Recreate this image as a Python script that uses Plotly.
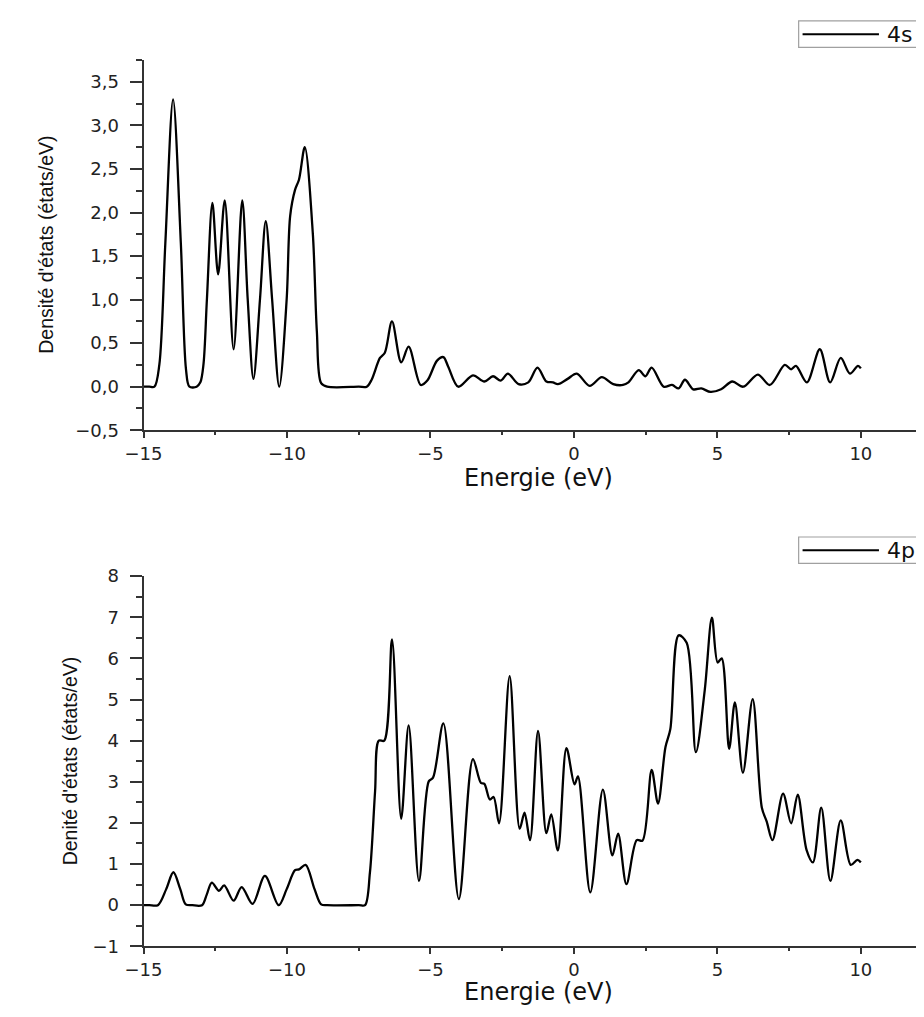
import plotly.graph_objects as go

# ---------------- data ----------------
energy_4s = [
    -15.0, -14.8, -14.62, -14.45, -14.24, -13.97, -13.70, -13.52, -13.40, -13.15,
    -13.02, -12.91, -12.79, -12.60, -12.40, -12.17, -11.86, -11.56, -11.37, -11.17,
    -10.94, -10.74, -10.52, -10.27, -10.01, -9.89, -9.72, -9.58, -9.38, -9.10,
    -8.96, -8.81, -8.6, -7.5, -7.22, -7.05, -6.76, -6.59, -6.34, -6.02,
    -5.76, -5.34, -5.11, -4.77, -4.55, -4.38, -4.03, -3.52, -3.12, -2.82,
    -2.55, -2.30, -1.93, -1.59, -1.27, -0.96, -0.73, -0.56, -0.22, 0.10,
    0.55, 0.97, 1.37, 1.71, 1.90, 2.26, 2.49, 2.71, 3.13, 3.42,
    3.65, 3.87, 4.16, 4.44, 4.76, 5.13, 5.52, 5.90, 6.41, 6.83,
    7.35, 7.57, 7.74, 8.12, 8.57, 8.93, 9.30, 9.62, 9.90, 10.0,
]
dos_4s = [
    0.0, 0.0, 0.0, 0.25, 1.65, 3.30, 1.65, 0.20, 0.0, 0.0,
    0.05, 0.26, 1.01, 2.11, 1.29, 2.14, 0.43, 2.14, 1.01, 0.09,
    1.01, 1.90, 1.01, 0.0, 1.01, 1.96, 2.26, 2.38, 2.75, 1.76,
    0.64, 0.04, 0.0, 0.0, 0.0, 0.08, 0.33, 0.39, 0.75, 0.28,
    0.46, 0.02, 0.07, 0.30, 0.34, 0.23, 0.0, 0.13, 0.06, 0.12,
    0.07, 0.15, 0.03, 0.05, 0.22, 0.06, 0.05, 0.03, 0.09, 0.15,
    0.01, 0.11, 0.03, 0.02, 0.05, 0.19, 0.12, 0.22, 0.0, 0.02,
    -0.02, 0.08, -0.03, -0.02, -0.06, -0.03, 0.06, 0.0, 0.14, 0.02,
    0.25, 0.20, 0.24, 0.05, 0.43, 0.05, 0.33, 0.15, 0.24, 0.21,
]

energy_4p = [
    -15.0, -14.8, -14.50, -14.21, -13.96, -13.72, -13.53, -13.3, -12.96, -12.80,
    -12.62, -12.37, -12.19, -11.86, -11.58, -11.20, -10.77, -10.29, -10.01, -9.72,
    -9.58, -9.35, -9.04, -8.81, -8.6, -7.5, -7.28, -7.11, -6.93, -6.80,
    -6.61, -6.34, -6.02, -5.76, -5.40, -5.06, -4.91, -4.55, -4.01, -3.52,
    -3.24, -3.12, -2.93, -2.80, -2.61, -2.24, -1.89, -1.72, -1.53, -1.25,
    -0.96, -0.79, -0.56, -0.26, 0.02, 0.14, 0.57, 1.01, 1.34, 1.54,
    1.83, 2.19, 2.39, 2.71, 2.93, 3.19, 3.36, 3.65, 3.93, 4.25,
    4.56, 4.81, 5.01, 5.15, 5.41, 5.61, 5.89, 6.23, 6.55, 6.72,
    6.92, 7.29, 7.57, 7.80, 8.11, 8.33, 8.62, 8.94, 9.30, 9.65,
    9.88, 10.0,
]
dos_4p = [
    0.0, 0.0, 0.0, 0.39, 0.80, 0.39, 0.02, 0.0, 0.0, 0.25,
    0.55, 0.35, 0.48, 0.11, 0.44, 0.03, 0.71, 0.0, 0.39, 0.85,
    0.87, 0.98, 0.39, 0.02, 0.0, 0.0, 0.0, 0.79, 2.77, 4.0,
    4.0, 6.46, 2.10, 4.37, 0.59, 3.01, 3.10, 4.42, 0.15, 3.55,
    2.97, 2.95, 2.57, 2.63, 1.99, 5.57, 1.86, 2.25, 1.58, 4.24,
    1.75, 2.21, 1.33, 3.82, 2.94, 3.13, 0.31, 2.81, 1.21, 1.74,
    0.51, 1.58, 1.57, 3.29, 2.47, 3.84, 4.28, 6.56, 6.38, 3.72,
    5.23, 6.99, 5.90, 6.00, 3.80, 4.93, 3.22, 5.01, 2.37, 2.03,
    1.58, 2.71, 1.99, 2.69, 1.34, 1.04, 2.37, 0.59, 2.06, 0.98,
    1.10, 1.04,
]

series_names = ["4s", "4p"]
x_title = "Energie (eV)"
y_titles = ["Densité d'états (états/eV)", "Denité d'états (états/eV)"]

# ---------------- figure ----------------
# the page body has an 8 px default margin, so the figure is placed at (8, 8)
OFF = 8
W, H = 924 - OFF, 1017 - OFF
fig = go.Figure()

fig.add_trace(go.Scatter(x=energy_4s, y=dos_4s, mode="lines", name=series_names[0],
                         line=dict(color="black", width=2.3, shape="spline", smoothing=0.9),
                         xaxis="x", yaxis="y", showlegend=False))
fig.add_trace(go.Scatter(x=energy_4p, y=dos_4p, mode="lines", name=series_names[1],
                         line=dict(color="black", width=2.3, shape="spline", smoothing=0.9),
                         xaxis="x2", yaxis="y2", showlegend=False))


def px_x(p):
    return (p - OFF) / W


def px_y(p):
    return 1 - (p - OFF) / H


axis_col = "#333333"
tick_font = dict(family="DejaVu Sans", size=18, color="#222222")

x_right = -15 + (924 - 127) / 29.3

xcommon = dict(range=[-15, x_right], domain=[px_x(127), 1.0], dtick=5, tick0=0,
               showline=True, linecolor=axis_col, linewidth=2, ticks="outside",
               ticklen=6, tickwidth=2, tickcolor=axis_col, showgrid=False,
               zeroline=False, tickfont=tick_font, ticklabelstandoff=0,
               minor=dict(dtick=2.5, tick0=0, ticks="outside", ticklen=3,
                          tickwidth=2, tickcolor=axis_col, showgrid=False))
ycommon = dict(showline=True, linecolor=axis_col, linewidth=2, ticks="outside",
               ticklen=12, tickwidth=2, tickcolor=axis_col, showgrid=False,
               zeroline=False, tickfont=tick_font, ticklabelstandoff=7)

fig.update_layout(
    width=W, height=H,
    margin=dict(l=0, r=0, t=0, b=0),
    paper_bgcolor="white", plot_bgcolor="white",
    separators=", ",
    xaxis=dict(**xcommon, anchor="y"),
    yaxis=dict(**ycommon, range=[-0.5, 3.75], domain=[px_y(428), px_y(50)],
               dtick=0.5, tick0=-0.5, tickformat=".1f", anchor="x",
               minor=dict(dtick=0.25, tick0=-0.5, ticks="outside", ticklen=6,
                          tickwidth=2, tickcolor=axis_col, showgrid=False)),
    xaxis2=dict(**xcommon, anchor="y2"),
    yaxis2=dict(**ycommon, range=[-1, 8], domain=[px_y(955), px_y(577)],
                dtick=1, tick0=0, tickformat="d", anchor="x2",
                minor=dict(dtick=0.5, tick0=0, ticks="outside", ticklen=6,
                           tickwidth=2, tickcolor=axis_col, showgrid=False)),
    showlegend=False,
)

title_font = dict(family="DejaVu Sans", size=24, color="#111111")
ytitle_font = dict(family="Liberation Sans", size=19.5, color="#111111")

annotations = [
    dict(text=x_title, x=px_x(530), y=px_y(477), xref="paper", yref="paper",
         showarrow=False, font=title_font, xanchor="center", yanchor="middle"),
    dict(text=x_title, x=px_x(530), y=px_y(1002), xref="paper", yref="paper",
         showarrow=False, font=title_font, xanchor="center", yanchor="middle"),
    dict(text=y_titles[0], x=px_x(28), y=px_y(239), xref="paper", yref="paper",
         showarrow=False, font=ytitle_font, textangle=-90, xanchor="center", yanchor="middle"),
    dict(text=y_titles[1], x=px_x(52), y=px_y(766), xref="paper", yref="paper",
         showarrow=False, font=ytitle_font, textangle=-90, xanchor="center", yanchor="middle"),
]

# legend boxes (framed sample line + label, as in the reference)
shapes = []
legend_font = dict(family="DejaVu Sans", size=22, color="#111111")
for name, (top, bottom) in zip(series_names, [(10, 37), (537, 564)]):
    mid = (top + bottom) / 2
    shapes.append(dict(type="rect", xref="paper", yref="paper",
                       x0=px_x(796), x1=px_x(940), y0=px_y(bottom), y1=px_y(top),
                       line=dict(color="#a0a0a0", width=1.2), fillcolor="white"))
    shapes.append(dict(type="line", xref="paper", yref="paper",
                       x0=px_x(800), x1=px_x(878), y0=px_y(mid), y1=px_y(mid),
                       line=dict(color="black", width=2)))
    annotations.append(dict(text=name, x=px_x(884), y=px_y(mid), xref="paper", yref="paper",
                            showarrow=False, font=legend_font, xanchor="left", yanchor="middle"))

fig.update_layout(annotations=annotations, shapes=shapes)

fig.write_html("out.html")
